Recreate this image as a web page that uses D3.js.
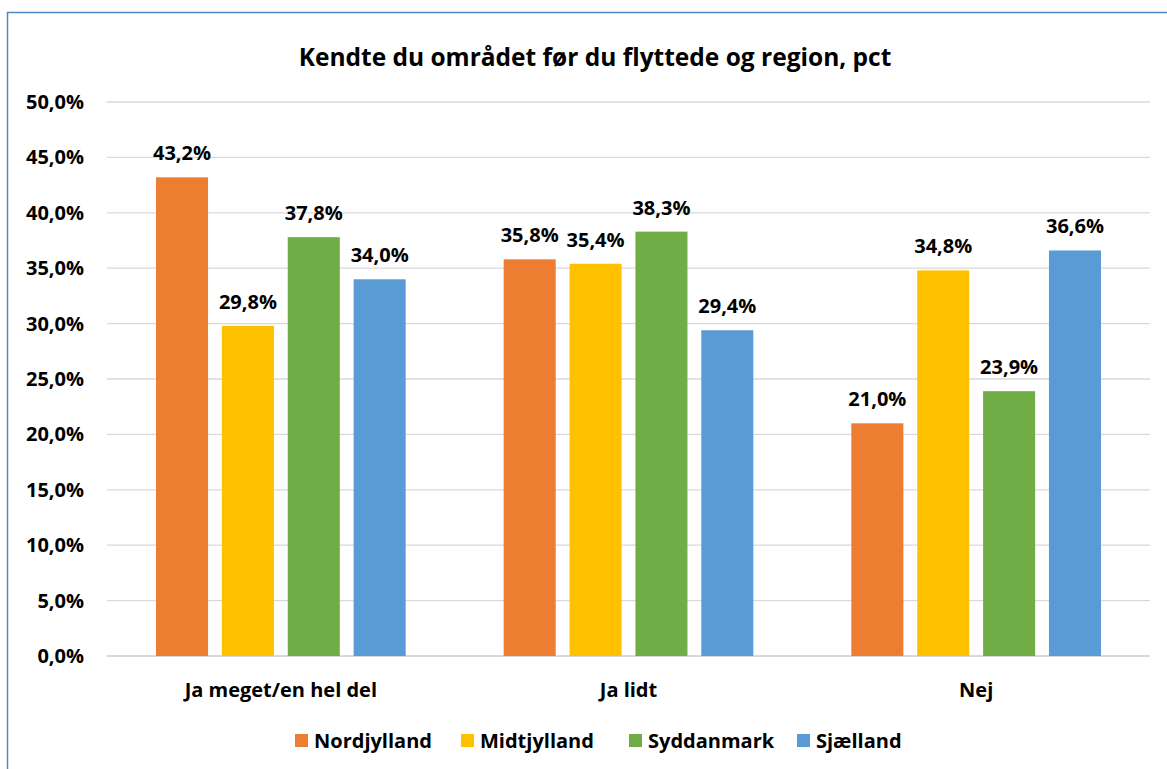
<!DOCTYPE html>
<html>
<head>
<meta charset="utf-8">
<script src="https://cdn.jsdelivr.net/npm/d3@7"></script>
<style>
  body { margin: 0; background: #fff; }
  text { font-family: "Open Sans", sans-serif; font-weight: bold; fill: #000; }
</style>
</head>
<body>
<svg id="chart" width="1167" height="769"></svg>
<script>
var categories = ["Ja meget/en hel del", "Ja lidt", "Nej"];
var regions = ["Nordjylland", "Midtjylland", "Syddanmark", "Sjælland"];
var colors = ["#ED7D31", "#FFC000", "#70AD47", "#5B9BD5"];
var nordjylland = [43.2, 35.8, 21.0];
var midtjylland = [29.8, 35.4, 34.8];
var syddanmark = [37.8, 38.3, 23.9];
var sjaelland = [34.0, 29.4, 36.6];
var yTicks = [0, 5, 10, 15, 20, 25, 30, 35, 40, 45, 50];

var series = [nordjylland, midtjylland, syddanmark, sjaelland];

var svg = d3.select("#chart");
var fmt = function(v) { return v.toFixed(1).replace(".", ",") + "%"; };

// outer frame
svg.append("rect")
    .attr("x", 7.5).attr("y", 12.5)
    .attr("width", 1200).attr("height", 800)
    .attr("fill", "none")
    .attr("stroke", "#4f86c6")
    .attr("stroke-width", 1.5);

svg.append("text")
    .attr("x", 595).attr("y", 66)
    .attr("text-anchor", "middle")
    .style("font-size", "24.5px")
    .text("Kendte du området før du flyttede og region, pct");

var x0 = d3.scaleBand().domain(categories).range([107, 1150]).paddingInner(0).paddingOuter(0);
var x1 = d3.scaleBand().domain(regions).range([49, x0.bandwidth() - 49]).paddingInner(0.21);
var y = d3.scaleLinear().domain([0, 50]).range([656, 102]);

svg.selectAll("line.grid")
    .data(yTicks)
    .enter()
    .append("line")
    .attr("class", "grid")
    .attr("x1", 107).attr("x2", 1150)
    .attr("y1", function(d) { return y(d); })
    .attr("y2", function(d) { return y(d); })
    .attr("stroke", "#d9d9d9")
    .attr("stroke-width", function(d) { return d === 0 ? 2 : 1.3; });

svg.selectAll("text.ytick")
    .data(yTicks)
    .enter()
    .append("text")
    .attr("class", "ytick")
    .attr("x", 84)
    .attr("y", function(d) { return y(d) + 7; })
    .attr("text-anchor", "end")
    .style("font-size", "20px")
    .text(function(d) { return fmt(d); });

var groups = svg.selectAll("g.cat")
    .data(categories)
    .enter()
    .append("g")
    .attr("class", "cat")
    .attr("transform", function(d) { return "translate(" + x0(d) + ",0)"; });

groups.each(function(cat, ci) {
    var g = d3.select(this);
    regions.forEach(function(r, ri) {
        var v = series[ri][ci];
        g.append("rect")
            .attr("x", x1(r))
            .attr("y", y(v))
            .attr("width", x1.bandwidth())
            .attr("height", y(0) - y(v))
            .attr("fill", colors[ri]);
        g.append("text")
            .attr("x", x1(r) + x1.bandwidth() / 2)
            .attr("y", y(v) - 17)
            .attr("text-anchor", "middle")
            .style("font-size", "20px")
            .text(fmt(v));
    });
    g.append("text")
        .attr("x", x0.bandwidth() / 2)
        .attr("y", 697)
        .attr("text-anchor", "middle")
        .style("font-size", "20px")
        .text(cat);
});

var legendX = [295, 461, 629, 797];
var legend = svg.selectAll("g.legend")
    .data(regions)
    .enter()
    .append("g")
    .attr("class", "legend")
    .attr("transform", function(d, i) { return "translate(" + legendX[i] + ",734)"; });

legend.append("rect")
    .attr("width", 13).attr("height", 13)
    .attr("fill", function(d, i) { return colors[i]; });

legend.append("text")
    .attr("x", 19).attr("y", 14)
    .style("font-size", "20px")
    .text(function(d) { return d; });
</script>
</body>
</html>
